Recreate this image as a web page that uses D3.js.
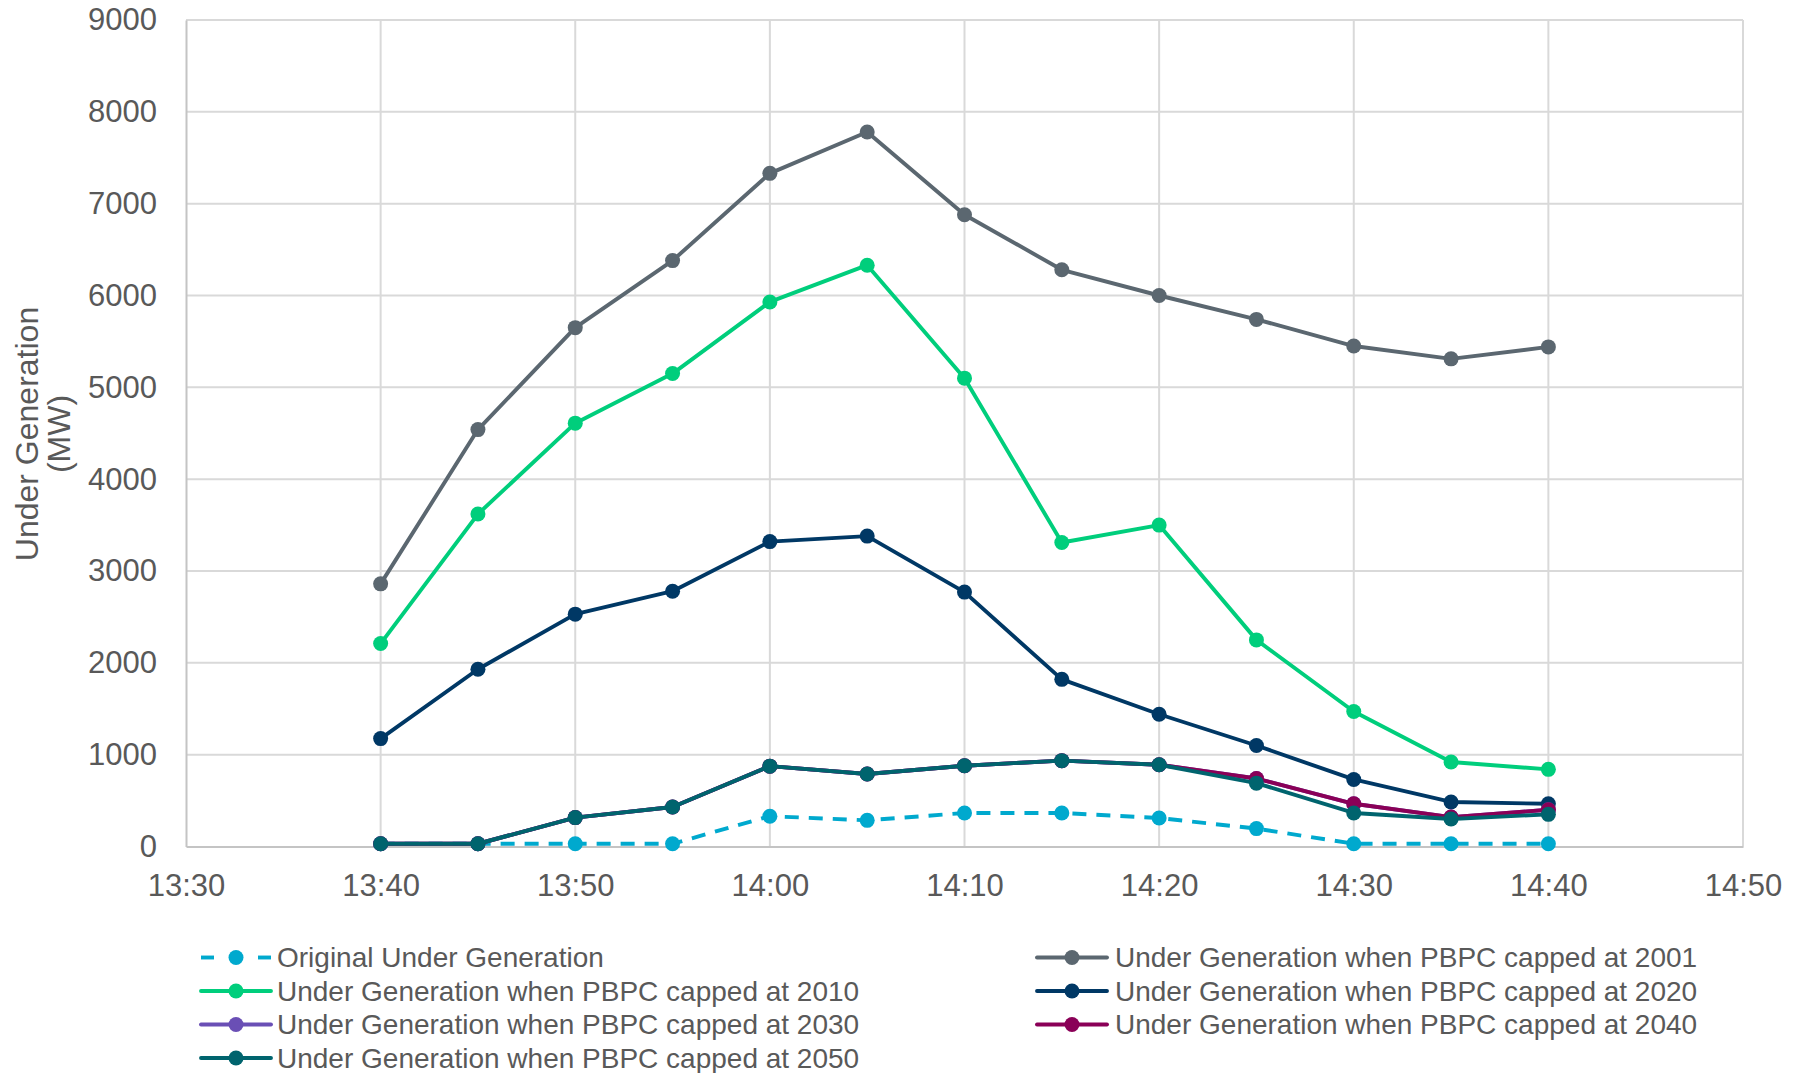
<!DOCTYPE html>
<html>
<head>
<meta charset="utf-8">
<script src="https://cdn.jsdelivr.net/npm/d3@7/dist/d3.min.js"></script>
<style>
  html, body { margin: 0; padding: 0; background: #ffffff; }
  svg { display: block; }
  text { font-family: "Liberation Sans", Arial, sans-serif; fill: #595959; }
</style>
</head>
<body>
<svg id="chart" width="1805" height="1073"></svg>
<script>
// Sample times (5-minute intervals)
const times = ["13:40","13:45","13:50","13:55","14:00","14:05","14:10","14:15","14:20","14:25","14:30","14:35","14:40"];

// Under generation (MW) per scenario
const original = [30, 30, 30, 30, 330, 285, 365, 365, 310, 195, 30, 30, 30];
const cap2001  = [2860, 4540, 5650, 6380, 7330, 7780, 6880, 6280, 6000, 5740, 5450, 5310, 5440];
const cap2010  = [2210, 3620, 4610, 5150, 5930, 6330, 5100, 3310, 3500, 2250, 1470, 920, 840];
const cap2020  = [1175, 1930, 2530, 2780, 3320, 3380, 2770, 1820, 1440, 1100, 730, 485, 465];
const cap2030  = [30, 30, 315, 430, 875, 790, 880, 935, 890, 740, 465, 320, 400];
const cap2040  = [30, 30, 315, 430, 875, 790, 880, 935, 890, 740, 465, 320, 400];
const cap2050  = [30, 30, 315, 430, 875, 790, 880, 935, 890, 690, 365, 300, 350];

const seriesNames = [
  "Original Under Generation",
  "Under Generation when PBPC capped at 2001",
  "Under Generation when PBPC capped at 2010",
  "Under Generation when PBPC capped at 2020",
  "Under Generation when PBPC capped at 2030",
  "Under Generation when PBPC capped at 2040",
  "Under Generation when PBPC capped at 2050"
];
const seriesColors = ["#00A9CE", "#5B6770", "#00CE7C", "#003865", "#6A4FB5", "#8A0057", "#00646E"];
const seriesValues = [original, cap2001, cap2010, cap2020, cap2030, cap2040, cap2050];

const yTicks = [0, 1000, 2000, 3000, 4000, 5000, 6000, 7000, 8000, 9000];
const xDomain = ["13:30", "14:50"];

const parseTime = d3.timeParse("%H:%M");

const svg = d3.select("#chart");
const plot = { left: 186, right: 1743, top: 20, bottom: 846.5 };

const x = d3.scaleTime()
  .domain(xDomain.map(parseTime))
  .range([plot.left, plot.right]);

const y = d3.scaleLinear()
  .domain([0, 9000])
  .range([plot.bottom, plot.top]);

// Gridlines
const xGridTicks = d3.timeMinute.every(10).range(parseTime("13:30"), d3.timeMinute.offset(parseTime("14:50"), 1));

svg.append("g")
  .selectAll("line")
  .data(yTicks.filter(d => d > 0))
  .join("line")
  .attr("x1", plot.left).attr("x2", plot.right)
  .attr("y1", d => y(d)).attr("y2", d => y(d))
  .attr("stroke", "#d9d9d9").attr("stroke-width", 2);

svg.append("g")
  .selectAll("line")
  .data(xGridTicks.slice(1))
  .join("line")
  .attr("x1", d => x(d)).attr("x2", d => x(d))
  .attr("y1", plot.top).attr("y2", plot.bottom)
  .attr("stroke", "#d9d9d9").attr("stroke-width", 2);

// Axes
const yAxis = d3.axisLeft(y).tickValues(yTicks).tickSize(0).tickPadding(29).tickFormat(d3.format("d"));
const gy = svg.append("g").attr("transform", `translate(${plot.left},0)`).call(yAxis);
gy.select(".domain").attr("stroke", "#c4c4c4").attr("stroke-width", 2);
gy.selectAll("text").style("font-size", "31px").attr("fill", "#595959");

const xAxis = d3.axisBottom(x).tickValues(xGridTicks).tickSize(0).tickPadding(27).tickFormat(d3.timeFormat("%H:%M"));
const gx = svg.append("g").attr("transform", `translate(0,${plot.bottom})`).call(xAxis);
gx.select(".domain").attr("stroke", "#c4c4c4").attr("stroke-width", 2);
gx.selectAll("text").style("font-size", "31px").attr("fill", "#595959");

// Y axis title
svg.append("text")
  .attr("transform", "translate(38,434) rotate(-90)")
  .attr("text-anchor", "middle")
  .style("font-size", "32px")
  .text("Under Generation");
svg.append("text")
  .attr("transform", "translate(70,434) rotate(-90)")
  .attr("text-anchor", "middle")
  .style("font-size", "32px")
  .text("(MW)");

// Series lines and markers
const line = d3.line()
  .x((d, i) => x(parseTime(times[i])))
  .y(d => y(d));

seriesValues.forEach((vals, s) => {
  const g = svg.append("g");
  g.append("path")
    .datum(vals)
    .attr("d", line)
    .attr("fill", "none")
    .attr("stroke", seriesColors[s])
    .attr("stroke-width", 3.9)
    .attr("stroke-linejoin", "round")
    .attr("stroke-dasharray", s === 0 ? "14,10" : null);
  g.selectAll("circle")
    .data(vals)
    .join("circle")
    .attr("cx", (d, i) => x(parseTime(times[i])))
    .attr("cy", d => y(d))
    .attr("r", 7.5)
    .attr("fill", seriesColors[s]);
});

// Legend: two columns, row-major order
const legendCols = [{ lineX: 201, markX: 236, textX: 277 }, { lineX: 1037, markX: 1072, textX: 1115 }];
const legendRows = [957.5, 991, 1024.5, 1058];

seriesNames.forEach((name, s) => {
  const col = legendCols[s % 2];
  const rowY = legendRows[Math.floor(s / 2)];
  const g = svg.append("g");
  if (s === 0) {
    g.append("line").attr("x1", col.lineX).attr("x2", col.lineX + 13)
      .attr("y1", rowY).attr("y2", rowY)
      .attr("stroke", seriesColors[s]).attr("stroke-width", 3.9);
    g.append("line").attr("x1", col.lineX + 57).attr("x2", col.lineX + 70)
      .attr("y1", rowY).attr("y2", rowY)
      .attr("stroke", seriesColors[s]).attr("stroke-width", 3.9);
  } else {
    g.append("line").attr("x1", col.lineX).attr("x2", col.lineX + 70)
      .attr("y1", rowY).attr("y2", rowY)
      .attr("stroke", seriesColors[s]).attr("stroke-width", 3.9)
      .attr("stroke-linecap", "round");
  }
  g.append("circle").attr("cx", col.markX).attr("cy", rowY).attr("r", 7.5).attr("fill", seriesColors[s]);
  g.append("text")
    .attr("x", col.textX).attr("y", rowY)
    .attr("dy", "0.35em")
    .style("font-size", "28px")
    .text(name);
});
</script>
</body>
</html>
